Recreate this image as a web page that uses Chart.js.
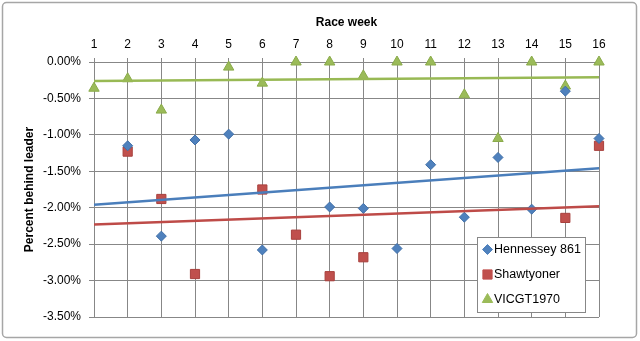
<!DOCTYPE html>
<html>
<head>
<meta charset="utf-8">
<script src="https://cdn.jsdelivr.net/npm/chart.js@4.4.0/dist/chart.umd.min.js"></script>
<style>
  html, body { margin: 0; padding: 0; background: #fff; }
  #wrap { position: relative; width: 640px; height: 341px; }
</style>
</head>
<body>
<div id="wrap"><canvas id="myChart" width="640" height="341"></canvas></div>
<script>
// race weeks (x axis)
const weeks = [1, 2, 3, 4, 5, 6, 7, 8, 9, 10, 11, 12, 13, 14, 15, 16];
// percent behind leader per week, null = no result
const hennessey = [null, -1.15, -2.39, -1.07, -0.99, -2.58, null, -1.99, -2.01, -2.56, -1.41, -2.13, -1.31, -2.02, -0.40, -1.05];
const shawtyoner = [null, -1.23, -1.88, -2.91, null, -1.75, -2.37, -2.94, -2.68, null, null, null, null, null, -2.14, -1.15];
const vicgt = [-0.36, -0.23, -0.66, null, -0.07, -0.29, 0, 0, -0.19, 0, 0, -0.45, -1.05, 0, -0.33, 0];
// linear trend lines, value at week 1 and week 16
const trendWeeks = [1, 16];
const hennesseyTrend = [-1.96, -1.46];
const shawtyonerTrend = [-2.23, -1.98];
const vicgtTrend = [-0.26, -0.21];
const seriesNames = ['Hennessey 861', 'Shawtyoner', 'VICGT1970'];

const BLUE = '#4F81BD', RED = '#C0504D', GREEN = '#9BBB59';
const GRID = '#878787';
const FONT = 'Liberation Sans';

function puntos(xs, ys) {
  const res = [];
  ys.forEach((v, i) => { if (v !== null) res.push({x: xs[i], y: v}); });
  return res;
}

function tendencia(ys, color) {
  return {
    type: 'line',
    data: puntos(trendWeeks, ys),
    borderColor: color,
    borderWidth: 2.5,
    pointRadius: 0,
    fill: false
  };
}

// marco exterior y leyenda dentro del area del grafico
const extras = {
  id: 'extras',
  beforeDraw(chart) {
    const ctx = chart.ctx;
    ctx.save();
    ctx.fillStyle = '#fff';
    ctx.fillRect(0, 0, chart.width, chart.height);
    ctx.strokeStyle = '#a6a6a6';
    ctx.lineWidth = 1.5;
    ctx.beginPath();
    ctx.roundRect(2.5, 2.5, 634, 335, 4);
    ctx.stroke();
    ctx.restore();
  },
  afterDraw(chart) {
    const ctx = chart.ctx;
    const x0 = 477, y0 = 237, w = 108, h = 75;
    ctx.save();
    ctx.fillStyle = '#fff';
    ctx.fillRect(x0, y0, w, h);
    ctx.strokeStyle = GRID;
    ctx.lineWidth = 1;
    ctx.strokeRect(x0 + 0.5, y0 + 0.5, w, h);
    const estilos = [
      {style: 'rectRot', color: BLUE, r: 5},
      {style: 'rect', color: RED, r: 6.5},
      {style: 'triangle', color: GREEN, r: 6}
    ];
    ctx.font = '12.5px "' + FONT + '"';
    ctx.textBaseline = 'middle';
    estilos.forEach((e, i) => {
      const cy = y0 + 12.5 + i * 25;
      ctx.fillStyle = e.color;
      ctx.strokeStyle = e.color;
      Chart.helpers.drawPoint(ctx, {pointStyle: e.style, radius: e.r, borderWidth: 1}, 487.5, cy);
      ctx.fillStyle = '#000';
      ctx.fillText(seriesNames[i], 494, cy);
    });
    ctx.restore();
  }
};

const ctx = document.getElementById('myChart').getContext('2d');
new Chart(ctx, {
  type: 'scatter',
  data: {
    datasets: [
      tendencia(hennesseyTrend, '#4A7EBB'),
      tendencia(shawtyonerTrend, '#BE4B48'),
      tendencia(vicgtTrend, '#98B954'),
      {
        label: seriesNames[0],
        data: puntos(weeks, hennessey),
        pointStyle: 'rectRot',
        pointRadius: 5,
        backgroundColor: BLUE,
        borderColor: '#3f6fa8',
        borderWidth: 1,
        clip: false
      },
      {
        label: seriesNames[1],
        data: puntos(weeks, shawtyoner),
        pointStyle: 'rect',
        pointRadius: 6.5,
        backgroundColor: RED,
        borderColor: '#a8403d',
        borderWidth: 1,
        clip: false
      },
      {
        label: seriesNames[2],
        data: puntos(weeks, vicgt),
        pointStyle: 'triangle',
        pointRadius: 6,
        backgroundColor: GREEN,
        borderColor: '#8aab4a',
        borderWidth: 1,
        clip: false
      }
    ]
  },
  options: {
    responsive: false,
    animation: false,
    layout: { padding: { left: 0, top: 0, right: 41, bottom: 24 } },
    plugins: {
      legend: { display: false },
      tooltip: { enabled: false }
    },
    scales: {
      x: {
        type: 'linear',
        position: 'top',
        min: 1,
        max: 16,
        ticks: {
          stepSize: 1,
          color: '#000',
          padding: 6,
          font: { family: FONT, size: 12 }
        },
        grid: { color: GRID, tickLength: 4, lineWidth: 1 },
        border: { color: GRID },
        title: {
          display: true,
          text: 'Race week',
          color: '#000',
          padding: { top: 15, bottom: 0 },
          font: { family: FONT, size: 12, weight: 'bold' }
        },
        afterFit(scale) { scale.height = 62; }
      },
      y: {
        min: -3.5,
        max: 0,
        ticks: {
          stepSize: 0.5,
          color: '#000',
          padding: 8,
          font: { family: FONT, size: 12 },
          callback: v => v.toFixed(2) + '%'
        },
        grid: { color: GRID, tickLength: 5, lineWidth: 1 },
        border: { color: GRID },
        title: {
          display: true,
          text: 'Percent behind leader',
          color: '#000',
          padding: { top: 22, bottom: 0 },
          font: { family: FONT, size: 12, weight: 'bold' }
        },
        afterFit(scale) { scale.width = 94; }
      }
    }
  },
  plugins: [extras]
});
</script>
</body>
</html>
